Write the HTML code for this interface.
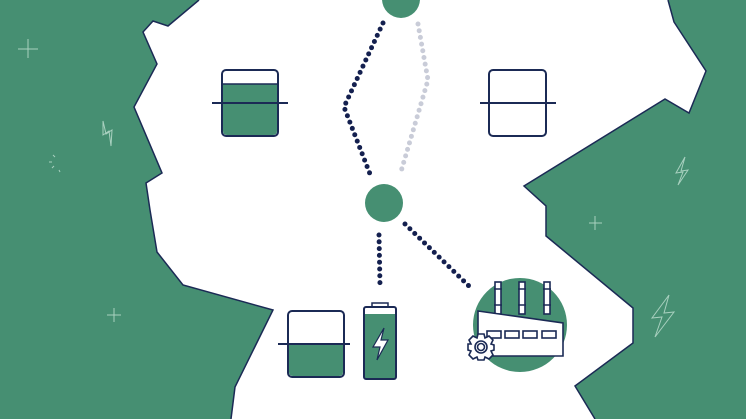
<!DOCTYPE html>
<html><head><meta charset="utf-8"><style>
html,body{margin:0;padding:0;background:#fff;}
svg{display:block;}
</style></head><body>
<svg width="746" height="419" viewBox="0 0 746 419" xmlns="http://www.w3.org/2000/svg">
<!-- left land -->
<path d="M0,0 L199,0 L168,26 L153,21 L143,32 L157,64 L134,107 L162,173 L146,183 L150,210 L157,252 L183,285 L273,310 L235,387 L231,419 L0,419 Z" fill="#468f72"/>
<path d="M199,0 L168,26 L153,21 L143,32 L157,64 L134,107 L162,173 L146,183 L150,210 L157,252 L183,285 L273,310 L235,387 L231,419" fill="none" stroke="#1b2a55" stroke-width="1.5"/>
<!-- right land -->
<path d="M668,0 L674,22 L706,71 L689,113 L665,99 L524,186 L546,206 L546,236 L633,308 L633,343 L575,386 L595,419 L746,419 L746,0 Z" fill="#468f72"/>
<path d="M668,0 L674,22 L706,71 L689,113 L665,99 L524,186 L546,206 L546,236 L633,308 L633,343 L575,386 L595,419" fill="none" stroke="#1b2a55" stroke-width="1.5"/>
<!-- sparkles -->
<g stroke="#a8d0bf" stroke-width="1" fill="none">
<path d="M18,49 H38 M28,39 V58"/>
<path d="M107,315 H121 M114,308 V322"/>
<path d="M589,223 H602 M595,216 V230"/>
<path d="M103,121 L103,135 L109,131 L111,146 L112,130 L106,134 Z"/>
<path d="M53,155 L55,157 M49,162 L52,162 M52,168 L54,166 M59,170 L60,172"/>
<path d="M685,157 L676,173 L683,172 L678,185 L688,170 L681,171 Z"/>
<path d="M669,295 L652,318 L662,317 L655,337 L674,312 L664,313 Z"/>
</g>
<!-- dotted lines -->
<g fill="none" stroke-linecap="round" stroke-dasharray="0 6.8" stroke-width="5">
<path d="M383,23 L344,107 L370,174" stroke="#14204f"/>
<path d="M418,24 L428,80 L400,175" stroke="#c9ccd8"/>
<path d="M379,235 L380,285" stroke="#14204f"/>
<path d="M405,224 L472,289" stroke="#14204f"/>
</g>
<!-- nodes -->
<circle cx="401" cy="-1" r="19" fill="#468f72"/>
<circle cx="384" cy="203" r="19" fill="#468f72"/>
<!-- top-left box -->
<rect x="222" y="70" width="56" height="66" rx="4" fill="#fff"/>
<path d="M223,84 H277 V131 Q277,135 273,135 H227 Q223,135 223,131 Z" fill="#468f72"/>
<path d="M223,84 H277" stroke="#1b2a55" stroke-width="1.5"/>
<rect x="222" y="70" width="56" height="66" rx="4" fill="none" stroke="#1b2a55" stroke-width="2"/>
<path d="M212,103 H288" stroke="#1b2a55" stroke-width="2"/>
<!-- top-right box -->
<rect x="489" y="70" width="57" height="66" rx="4" fill="#fff" stroke="#1b2a55" stroke-width="2"/>
<path d="M480,103 H556" stroke="#1b2a55" stroke-width="2"/>
<!-- bottom box -->
<rect x="288" y="311" width="56" height="66" rx="4" fill="#fff"/>
<path d="M289,344 H343 V372 Q343,376 339,376 H293 Q289,376 289,372 Z" fill="#468f72"/>
<rect x="288" y="311" width="56" height="66" rx="4" fill="none" stroke="#1b2a55" stroke-width="2"/>
<path d="M278,344 H350" stroke="#1b2a55" stroke-width="2"/>
<!-- battery -->
<rect x="372" y="303" width="16" height="5" fill="#fff" stroke="#1b2a55" stroke-width="1.5"/>
<rect x="364" y="307" width="32" height="72" rx="2" fill="#fff"/>
<rect x="365" y="314" width="30" height="64" fill="#468f72"/>
<rect x="364" y="307" width="32" height="72" rx="2" fill="none" stroke="#1b2a55" stroke-width="2"/>
<path d="M384,328 L373,347 L380,347 L377,360 L388,340 L381,340 Z" fill="#fff" stroke="#1b2a55" stroke-width="1.2"/>
<!-- factory -->
<circle cx="520" cy="325" r="47" fill="#468f72"/>
<g fill="#fff" stroke="#1b2a55" stroke-width="1.6">
<rect x="495" y="282" width="6" height="32"/>
<rect x="519" y="282" width="6" height="32"/>
<rect x="544" y="282" width="6" height="32"/>
<path d="M494,289 H502 M518,289 H526 M543,289 H551 M494,305 H502 M518,305 H526 M543,305 H551"/>
<path d="M478,311 L563,323 L563,356 L478,356 Z"/>
<rect x="487" y="331" width="14" height="7"/>
<rect x="505" y="331" width="14" height="7"/>
<rect x="523" y="331" width="14" height="7"/>
<rect x="542" y="331" width="14" height="7"/>
<g transform="translate(481,347)">
<path d="M-3,-13 H3 L4,-9 L8,-11 L12,-7 L10,-3 L13,-2 V3 L10,4 L12,8 L8,12 L4,10 L3,13 H-3 L-4,10 L-8,12 L-12,8 L-10,4 L-13,3 V-3 L-10,-3 L-12,-7 L-8,-11 L-4,-9 Z"/>
<circle r="6"/>
<circle r="3.5"/>
</g>
</g>
</svg>
</body></html>
